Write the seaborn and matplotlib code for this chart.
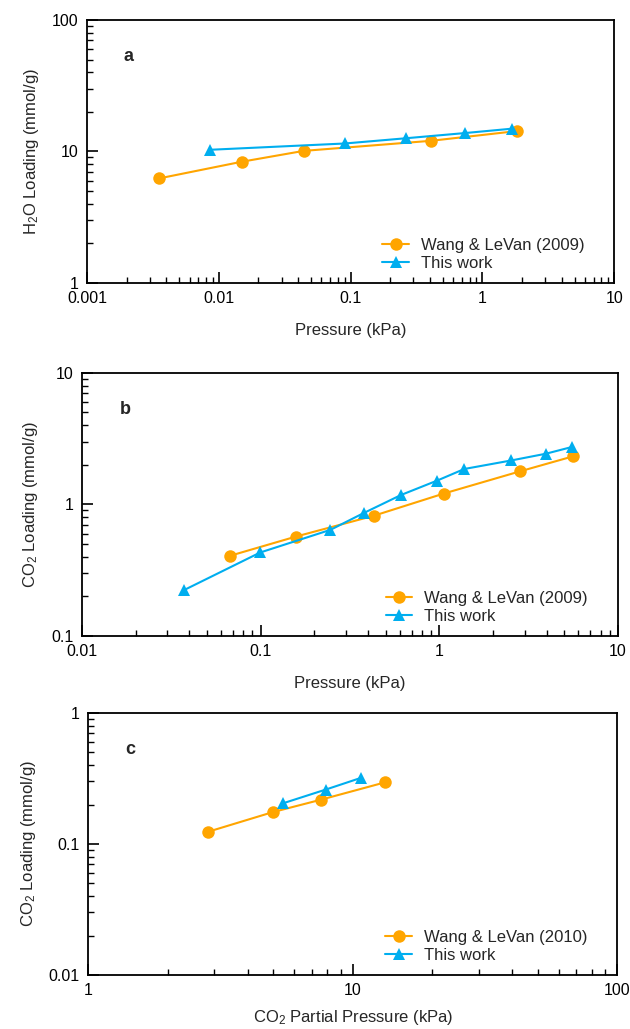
import numpy as np
import pandas as pd
import matplotlib
matplotlib.use("Agg")
import matplotlib.pyplot as plt
from matplotlib.ticker import LogLocator, FuncFormatter, NullFormatter
import seaborn as sns

# ---- data ----
a_ref_x = [0.0035, 0.0149, 0.044, 0.41, 1.83]
a_ref_y = [6.23, 8.35, 10.1, 12.06, 14.3]
a_new_x = [0.0086, 0.0906, 0.262, 0.735, 1.67]
a_new_y = [10.3, 11.5, 12.6, 13.8, 14.9]

b_ref_x = [0.0671, 0.158, 0.43, 1.06, 2.81, 5.6]
b_ref_y = [0.406, 0.57, 0.82, 1.21, 1.78, 2.32]
b_new_x = [0.0375, 0.0995, 0.246, 0.377, 0.611, 0.975, 1.38, 2.53, 3.95, 5.5]
b_new_y = [0.224, 0.431, 0.641, 0.859, 1.18, 1.52, 1.86, 2.16, 2.43, 2.73]

c_ref_x = [2.84, 4.98, 7.59, 13.2]
c_ref_y = [0.124, 0.175, 0.218, 0.295]
c_new_x = [5.47, 7.89, 10.7]
c_new_y = [0.205, 0.26, 0.319]

labels_ref = ["Wang & LeVan (2009)", "Wang & LeVan (2009)", "Wang & LeVan (2010)"]
label_new = "This work"
panel_letters = ["a", "b", "c"]
xlabels = ["Pressure (kPa)", "Pressure (kPa)", "CO$_2$ Partial Pressure (kPa)"]
ylabels = ["H$_2$O Loading (mmol/g)", "CO$_2$ Loading (mmol/g)", "CO$_2$ Loading (mmol/g)"]
xlims = [(0.001, 10), (0.01, 10), (1, 100)]
ylims = [(1, 100), (0.1, 10), (0.01, 1)]

ORANGE = "#FFA500"
BLUE = "#00AEEF"

sns.set_style("white")
plt.rcParams["font.family"] = ["Liberation Sans", "DejaVu Sans"]
plt.rcParams["mathtext.default"] = "regular"

fig = plt.figure(figsize=(6.3, 10.29), dpi=100)
positions = [
    [0.138, 0.725, 0.837, 0.2556],
    [0.130, 0.382, 0.851, 0.2556],
    [0.140, 0.0525, 0.840, 0.2546],
]
data = [
    (a_ref_x, a_ref_y, a_new_x, a_new_y),
    (b_ref_x, b_ref_y, b_new_x, b_new_y),
    (c_ref_x, c_ref_y, c_new_x, c_new_y),
]
xlabelpads = [12, 12, 7]

fmt = FuncFormatter(lambda v, p: "{:g}".format(v))

for i, (pos, (rx, ry, nx, ny)) in enumerate(zip(positions, data)):
    ax = fig.add_axes(pos)
    df_ref = pd.DataFrame({"x": rx, "y": ry})
    df_new = pd.DataFrame({"x": nx, "y": ny})
    sns.lineplot(data=df_ref, x="x", y="y", ax=ax, color=ORANGE, marker="o",
                 markersize=9, markeredgewidth=0, linewidth=1.5, sort=False,
                 label=labels_ref[i])
    sns.lineplot(data=df_new, x="x", y="y", ax=ax, color=BLUE, marker="^",
                 markersize=9, markeredgewidth=0, linewidth=1.5, sort=False,
                 label=label_new)
    ax.set_xscale("log")
    ax.set_yscale("log")
    ax.set_xlim(*xlims[i])
    ax.set_ylim(*ylims[i])
    ax.xaxis.set_major_locator(LogLocator(base=10, numticks=10))
    ax.yaxis.set_major_locator(LogLocator(base=10, numticks=10))
    ax.xaxis.set_minor_locator(LogLocator(base=10, subs=np.arange(2, 10), numticks=10))
    ax.yaxis.set_minor_locator(LogLocator(base=10, subs=np.arange(2, 10), numticks=10))
    ax.xaxis.set_major_formatter(fmt)
    ax.yaxis.set_major_formatter(fmt)
    ax.xaxis.set_minor_formatter(NullFormatter())
    ax.yaxis.set_minor_formatter(NullFormatter())
    ax.tick_params(axis="both", which="major", direction="in", length=8, width=1.2,
                   labelsize=11.5, color="black", labelcolor="black",
                   bottom=True, left=True, top=False, right=False, pad=6)
    ax.tick_params(axis="both", which="minor", direction="in", length=4.5, width=1.0,
                   color="black", bottom=True, left=True, top=False, right=False)
    for s in ax.spines.values():
        s.set_color("black")
        s.set_linewidth(1.3)
    ax.set_xlabel(xlabels[i], fontsize=12, labelpad=xlabelpads[i])
    ax.set_ylabel(ylabels[i], fontsize=12, labelpad=8)
    ax.text(0.07, 0.86, panel_letters[i], transform=ax.transAxes, fontsize=13,
            fontweight="bold", ha="left", va="center")
    leg = ax.legend(loc="lower right", frameon=False, fontsize=12,
                    bbox_to_anchor=(0.965, 0.0), handlelength=1.6,
                    handletextpad=0.7, labelspacing=0.2, borderaxespad=0.3)

fig.savefig("out.png", dpi=100)
